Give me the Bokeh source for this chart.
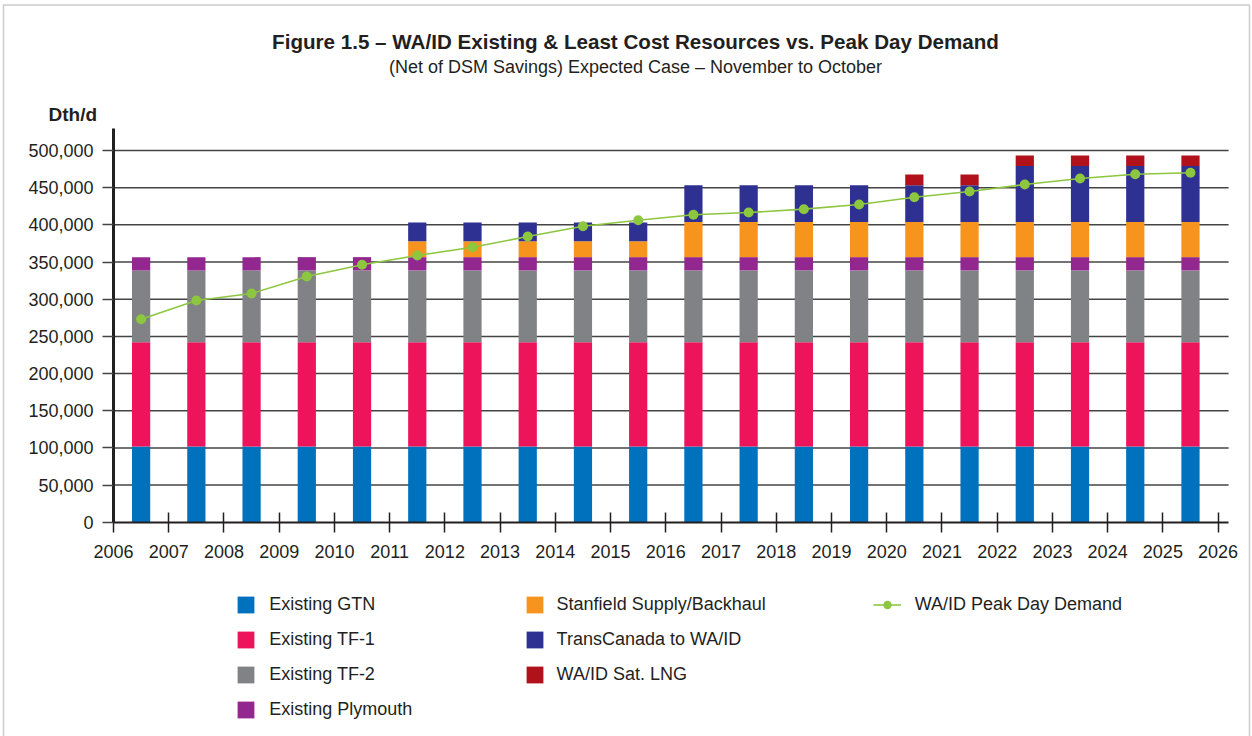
from bokeh.plotting import figure
from bokeh.models import (ColumnDataSource, Range1d, FixedTicker, NumeralTickFormatter,
                          Label, Legend, LegendItem, BoxAnnotation)
from bokeh.embed import file_html
from bokeh.resources import INLINE

# ---------------- data ----------------
years = [2006, 2007, 2008, 2009, 2010, 2011, 2012, 2013, 2014, 2015,
         2016, 2017, 2018, 2019, 2020, 2021, 2022, 2023, 2024, 2025]
existing_gtn = [102000, 102000, 102000, 102000, 102000, 102000, 102000, 102000, 102000, 102000,
                102000, 102000, 102000, 102000, 102000, 102000, 102000, 102000, 102000, 102000]
existing_tf1 = [140300, 140300, 140300, 140300, 140300, 140300, 140300, 140300, 140300, 140300,
                140300, 140300, 140300, 140300, 140300, 140300, 140300, 140300, 140300, 140300]
existing_tf2 = [96400, 96400, 96400, 96400, 96400, 96400, 96400, 96400, 96400, 96400,
                96400, 96400, 96400, 96400, 96400, 96400, 96400, 96400, 96400, 96400]
existing_plymouth = [17900, 17900, 17900, 17900, 17900, 17900, 17900, 17900, 17900, 17900,
                     17900, 17900, 17900, 17900, 17900, 17900, 17900, 17900, 17900, 17900]
stanfield = [0, 0, 0, 0, 0, 21500, 21500, 21500, 21500, 21500,
             47100, 47100, 47100, 47100, 47100, 47100, 47100, 47100, 47100, 47100]
transcanada = [0, 0, 0, 0, 0, 25200, 25200, 25200, 25200, 25200,
               49700, 49700, 49700, 49700, 49700, 49700, 75300, 75300, 75300, 75300]
sat_lng = [0, 0, 0, 0, 0, 0, 0, 0, 0, 0,
           0, 0, 0, 0, 14400, 14400, 14400, 14400, 14400, 14400]
peak_demand = [273100, 298300, 307700, 330600, 346300, 358800, 370000, 384300, 398200, 406300,
               413500, 416600, 421100, 427400, 437200, 444900, 454300, 462300, 468100, 470000]

series_names = ["Existing GTN", "Existing TF-1", "Existing TF-2", "Existing Plymouth",
                "Stanfield Supply/Backhaul", "TransCanada to WA/ID", "WA/ID Sat. LNG"]
demand_name = "WA/ID Peak Day Demand"
x_ticks = list(range(2006, 2027))
y_ticks = list(range(0, 500001, 50000))

title_text = "Figure 1.5 \u2013 WA/ID Existing & Least Cost Resources vs. Peak Day Demand"
subtitle_text = "(Net of DSM Savings) Expected Case \u2013 November to October"
y_unit_text = "Dth/d"

colors = ["#0071bc", "#ed145b", "#808285", "#92278f", "#f7941d", "#2e3192", "#b0111a"]
green = "#8dc63f"
FONT = "Liberation Sans"
TXT = "#231f20"

W, H = 1252, 736
# axis geometry: the plot frame covers the whole canvas, axes are fixed inside it
X0_PX, PX_PER_YEAR = 113.0, 55.23
Y0_PX, PX_PER_UNIT = 521.8, 0.0007436
x_start = 2006 - X0_PX / PX_PER_YEAR
x_end = 2006 + (W - X0_PX) / PX_PER_YEAR
y_start = -(H - Y0_PX) / PX_PER_UNIT
y_end = Y0_PX / PX_PER_UNIT
x_axis_end = 2026.19
y_axis_end = 530000

keys = ["gtn", "tf1", "tf2", "ply", "stan", "tc", "lng"]
src = ColumnDataSource(dict(
    x=[y + 0.5 for y in years],
    gtn=existing_gtn, tf1=existing_tf1, tf2=existing_tf2, ply=existing_plymouth,
    stan=stanfield, tc=transcanada, lng=sat_lng, demand=peak_demand,
))
grid_src = ColumnDataSource(dict(y=y_ticks[1:]))

p = figure(width=W, height=H, output_backend="svg", toolbar_location=None,
           x_range=Range1d(x_start, x_end), y_range=Range1d(y_start, y_end),
           min_border=0)
p.outline_line_color = None
p.background_fill_color = "white"
p.border_fill_color = "white"
p.xgrid.visible = False
p.ygrid.visible = False

# horizontal grid lines at the y ticks, spanning the x-axis extent
p.segment(x0=2006, x1=x_axis_end, y0="y", y1="y", source=grid_src,
          line_color="#444444", line_width=1.5)

bars = p.vbar_stack(keys, x="x", width=0.33, color=colors, line_color=None, source=src)
dline = p.line("x", "demand", source=src, line_color=green, line_width=1.6)
dcirc = p.scatter("x", "demand", source=src, size=10, fill_color=green, line_color=None)

# axes
xa = p.xaxis[0]
xa.fixed_location = 0
xa.bounds = (2006, x_axis_end)
xa.ticker = FixedTicker(ticks=x_ticks)
xa.minor_tick_line_color = None
xa.axis_line_width = 2
xa.axis_line_color = TXT
xa.major_tick_line_color = TXT
xa.major_tick_line_width = 1.5
xa.major_tick_in = 10
xa.major_tick_out = 10
xa.major_label_standoff = 13
xa.major_label_text_font = FONT
xa.major_label_text_font_size = "18px"
xa.major_label_text_color = TXT

ya = p.yaxis[0]
ya.fixed_location = 2006
ya.bounds = (0, y_axis_end)
ya.ticker = FixedTicker(ticks=y_ticks)
ya.formatter = NumeralTickFormatter(format="0,0")
ya.minor_tick_line_color = None
ya.axis_line_width = 3
ya.axis_line_color = TXT
ya.major_tick_line_color = "#444444"
ya.major_tick_line_width = 1.5
ya.major_tick_in = 0
ya.major_tick_out = 11
ya.major_label_standoff = 9
ya.major_label_text_font = FONT
ya.major_label_text_font_size = "18px"
ya.major_label_text_color = TXT

# titles (screen units, origin at bottom-left of the canvas-sized frame)
p.add_layout(Label(x=635, y=H - 41, x_units="screen", y_units="screen", text=title_text,
                   text_align="center", text_baseline="middle", text_font=FONT,
                   text_font_size="20.6px", text_font_style="bold", text_color=TXT))
p.add_layout(Label(x=635, y=H - 66, x_units="screen", y_units="screen", text=subtitle_text,
                   text_align="center", text_baseline="middle", text_font=FONT,
                   text_font_size="18px", text_color=TXT))
p.add_layout(Label(x=48, y=H - 114, x_units="screen", y_units="screen", text=y_unit_text,
                   text_align="left", text_baseline="middle", text_font=FONT,
                   text_font_size="19px", text_font_style="bold", text_color=TXT))

# outer frame of the figure
p.add_layout(BoxAnnotation(left=3, right=W - 3, top=H - 4.5, bottom=-20,
                           left_units="screen", right_units="screen",
                           top_units="screen", bottom_units="screen",
                           fill_color=None, fill_alpha=0, line_color="#555555",
                           line_width=1.5))

def make_legend(items, loc, gw, gh, standoff):
    leg = Legend(items=items, location=loc, orientation="vertical",
                 border_line_color=None, background_fill_alpha=0, padding=0, margin=0,
                 spacing=14, glyph_width=gw, glyph_height=gh, label_standoff=standoff,
                 label_height=21, label_text_font=FONT, label_text_font_size="18px",
                 label_text_color=TXT)
    p.add_layout(leg)

make_legend([LegendItem(label=series_names[i], renderers=[bars[i]]) for i in range(4)],
            (235.2, H - 719.5), 21, 21, 13)
make_legend([LegendItem(label=series_names[i], renderers=[bars[i]]) for i in range(4, 7)],
            (523.6, H - 684.5), 21, 21, 12)
make_legend([LegendItem(label=demand_name, renderers=[dline, dcirc])],
            (872.7, H - 614.5), 28, 21, 14)

open("out.html", "w").write(file_html(p, INLINE))
